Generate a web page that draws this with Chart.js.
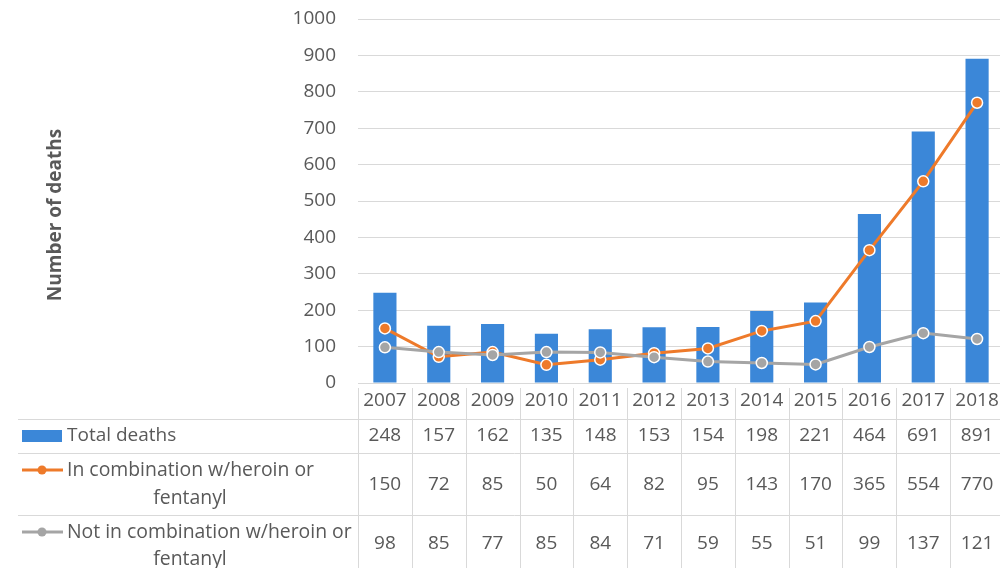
<!DOCTYPE html>
<html>
<head>
<meta charset="utf-8">
<script src="https://cdn.jsdelivr.net/npm/chart.js@4.4.1/dist/chart.umd.min.js"></script>
<style>
  html, body { margin: 0; padding: 0; background: #ffffff; }
  #wrap { width: 1000px; height: 568px; overflow: hidden; position: relative; }
  canvas { display: block; }
</style>
</head>
<body>
<div id="wrap"><canvas id="c" width="1011" height="568" style="width:1011px;height:568px"></canvas></div>
<script>
const years = ['2007','2008','2009','2010','2011','2012','2013','2014','2015','2016','2017','2018'];
const totalDeaths = [248,157,162,135,148,153,154,198,221,464,691,891];
const withHeroinFentanyl = [150,72,85,50,64,82,95,143,170,365,554,770];
const withoutHeroinFentanyl = [98,85,77,85,84,71,59,55,51,99,137,121];
const yTicks = [0,100,200,300,400,500,600,700,800,900,1000];
const seriesNames = ['Total deaths', 'In combination w/heroin or fentanyl', 'Not in combination w/heroin or fentanyl'];
const yTitle = 'Number of deaths';

const BLUE = '#3b87d8';
const ORANGE = '#ee7a2a';
const GRAY = '#a5a5a5';
const TEXT = '#595959';
const GRID = '#d9d9d9';
const FONT = "'Open Sans', sans-serif";

const tablePlugin = {
  id: 'dataTable',
  afterDraw(chart) {
    const ctx = chart.ctx;
    const x = chart.scales.x;
    const w = x.getPixelForValue(1) - x.getPixelForValue(0);
    ctx.save();
    ctx.strokeStyle = GRID;
    ctx.lineWidth = 1;
    [419.5, 453.5, 515.5].forEach(yy => {
      ctx.beginPath(); ctx.moveTo(18, yy); ctx.lineTo(chart.width, yy); ctx.stroke();
    });
    for (let i = 0; i <= years.length; i++) {
      const xx = Math.round(x.getPixelForValue(0) - w / 2 + i * w) + 0.5;
      ctx.beginPath(); ctx.moveTo(xx, 388); ctx.lineTo(xx, 568); ctx.stroke();
    }
    ctx.fillStyle = TEXT;
    ctx.font = '19px ' + FONT;
    ctx.textAlign = 'center';
    ctx.textBaseline = 'middle';
    const rows = [[totalDeaths, 436], [withHeroinFentanyl, 485], [withoutHeroinFentanyl, 544]];
    rows.forEach(([arr, yy]) => {
      arr.forEach((v, i) => ctx.fillText(String(v), x.getPixelForValue(i), yy));
    });
    ctx.textAlign = 'left';
    ctx.fillStyle = BLUE;
    ctx.fillRect(22, 430, 40, 12);
    ctx.fillStyle = TEXT;
    ctx.fillText(seriesNames[0], 67, 436);
    ctx.font = '19.4px ' + FONT;
    ctx.strokeStyle = ORANGE; ctx.lineWidth = 3;
    ctx.beginPath(); ctx.moveTo(22, 470); ctx.lineTo(63, 470); ctx.stroke();
    ctx.fillStyle = ORANGE;
    ctx.beginPath(); ctx.arc(42, 470, 4.5, 0, Math.PI * 2); ctx.fill();
    ctx.fillStyle = TEXT;
    ctx.fillText('In combination w/heroin or', 67, 470);
    ctx.textAlign = 'center';
    ctx.fillText('fentanyl', 190, 498);
    ctx.strokeStyle = GRAY; ctx.lineWidth = 3;
    ctx.beginPath(); ctx.moveTo(22, 532); ctx.lineTo(63, 532); ctx.stroke();
    ctx.fillStyle = GRAY;
    ctx.beginPath(); ctx.arc(42, 532, 4.5, 0, Math.PI * 2); ctx.fill();
    ctx.fillStyle = TEXT;
    ctx.textAlign = 'left';
    ctx.fillText('Not in combination w/heroin or', 67, 532);
    ctx.textAlign = 'center';
    ctx.fillText('fentanyl', 190, 559);
    ctx.save();
    ctx.translate(56, 215);
    ctx.rotate(-Math.PI / 2);
    ctx.font = 'bold 19px ' + FONT;
    ctx.textAlign = 'center';
    ctx.textBaseline = 'middle';
    ctx.fillText(yTitle, 0, 0);
    ctx.restore();
    ctx.restore();
  }
};

const bgPlugin = {
  id: 'bg',
  beforeDraw(chart) {
    const ctx = chart.ctx;
    ctx.save();
    ctx.fillStyle = '#ffffff';
    ctx.fillRect(0, 0, chart.width, chart.height);
    ctx.restore();
  }
};

new Chart(document.getElementById('c'), {
  type: 'bar',
  data: {
    labels: years,
    datasets: [
      {
        type: 'bar',
        label: seriesNames[0],
        data: totalDeaths,
        backgroundColor: BLUE,
        barPercentage: 0.86,
        categoryPercentage: 0.5,
        order: 2
      },
      {
        type: 'line',
        label: seriesNames[1],
        data: withHeroinFentanyl,
        borderColor: ORANGE,
        backgroundColor: ORANGE,
        borderWidth: 3,
        pointRadius: 5.5,
        pointBorderColor: '#ffffff',
        pointBackgroundColor: ORANGE,
        pointBorderWidth: 1.5,
        tension: 0,
        order: 1
      },
      {
        type: 'line',
        label: seriesNames[2],
        data: withoutHeroinFentanyl,
        borderColor: GRAY,
        backgroundColor: GRAY,
        borderWidth: 3,
        pointRadius: 5.5,
        pointBorderColor: '#ffffff',
        pointBackgroundColor: GRAY,
        pointBorderWidth: 1.5,
        tension: 0,
        order: 0
      }
    ]
  },
  options: {
    responsive: false,
    animation: false,
    devicePixelRatio: 1,
    layout: { padding: { top: 19, right: 0, bottom: 0, left: 0 } },
    plugins: {
      legend: { display: false },
      tooltip: { enabled: false }
    },
    scales: {
      x: {
        type: 'category',
        offset: true,
        grid: { display: false, drawTicks: false },
        border: { display: false },
        ticks: { color: TEXT, font: { family: FONT, size: 19 }, padding: 6, maxRotation: 0, autoSkip: false },
        afterFit(scale) { scale.height = 185; scale.paddingLeft = 0; scale.paddingRight = 0; }
      },
      y: {
        min: 0,
        max: 1000,
        afterBuildTicks(scale) { scale.ticks = yTicks.map(v => ({ value: v })); },
        grid: { color: GRID, lineWidth: 1, drawTicks: false },
        border: { display: false },
        ticks: { color: TEXT, font: { family: FONT, size: 19 }, padding: 22, callback: v => String(v) },
        afterFit(scale) { scale.width = 358; scale.paddingTop = 0; scale.paddingBottom = 0; }
      }
    }
  },
  plugins: [bgPlugin, tablePlugin]
});
</script>
</body>
</html>
